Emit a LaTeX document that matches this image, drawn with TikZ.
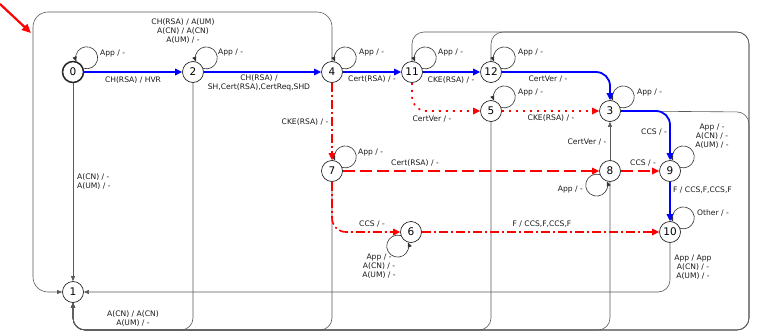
\documentclass[tikz,border=0pt]{standalone}
\usepackage{fontspec}
\setmainfont{DejaVu Sans}
\usetikzlibrary{arrows.meta}
\begin{document}
\begin{tikzpicture}[x=1pt,y=-1pt,
  st/.style={circle,draw=black!85,line width=0.7pt,minimum size=21pt,inner sep=0pt,font=\fontsize{10.5}{12}\selectfont},
  lbl/.style={font=\fontsize{7.6}{9.2}\selectfont,inner sep=0pt,align=center,text=black!90},
  gedge/.style={draw=black!65,line width=0.6pt,-{Triangle[length=5pt,width=4pt]},rounded corners=12pt},
  bedge/.style={draw=blue,line width=1.8pt,-{Triangle[length=7pt,width=6.5pt]},rounded corners=14pt},
  redge/.style={draw=red,line width=1.6pt,-{Triangle[length=7pt,width=6.5pt]},rounded corners=14pt},
  dashdot/.style={dash pattern=on 9pt off 3pt on 2pt off 3pt},
  dotline/.style={dash pattern=on 2pt off 5pt},
  longdash/.style={dash pattern=on 12pt off 5pt},
  lp/.style={draw=black!80,line width=0.6pt,-{Triangle[length=5pt,width=4pt]}},
]
\useasboundingbox (0,0) rectangle (757,332);

% states
\node[st,line width=1.5pt] (n0) at (73,72) {0};
\node[st] (n2) at (193,72) {2};
\node[st] (n4) at (332,72) {4};
\node[st] (n11) at (412,72) {11};
\node[st] (n12) at (491,72) {12};
\node[st] (n5) at (491,111) {5};
\node[st] (n3) at (610,111) {3};
\node[st] (n7) at (332,171) {7};
\node[st] (n8) at (610,171) {8};
\node[st] (n9) at (670,171) {9};
\node[st] (n6) at (411,232) {6};
\node[st] (n10) at (670,232) {10};
\node[st] (n1) at (73,292) {1};

% start arrow
\coordinate (s0) at (0,4);
\coordinate (s1) at (31,33);
\draw[red,line width=2.2pt,-{Triangle[length=9pt,width=8pt]}] (s0) -- (s1);

% grey edges to sink 1
\draw[gedge] (n0) -- (n1);
\draw[gedge,rounded corners=15pt] (n4.north) -- (332,12) -- (33,12) -- (33,292) -- (n1.west);
\draw[gedge] (n2.south) -- (193,330) -- (73,330) -- (n1.south);
\draw[gedge] (n7.south) -- (332,330) -- (73,330) -- (n1.south);
\draw[gedge] (n5.south) -- (491,330) -- (73,330) -- (n1.south);
\draw[gedge] (n8.south) -- (610,330) -- (73,330) -- (n1.south);
\draw[gedge] (n3.east) -- (749,112) -- (749,330) -- (73,330) -- (n1.south);
\draw[gedge] (n11.north) -- (412,32) -- (749,32) -- (749,330) -- (73,330) -- (n1.south);
\draw[gedge] (n12.north) -- (491,32) -- (749,32) -- (749,330) -- (73,330) -- (n1.south);
\draw[gedge] (n10.south) -- (670,292) -- (n1.east);
\draw[gedge] (n8) -- (n3);

% self loops (upper right)
\foreach \n in {n0,n2,n4,n11,n12,n5,n3,n7,n9,n10}
  \draw[lp] (\n.19) arc[start angle=-106, end angle=200.6, radius=11pt];
% self loops (lower left)
\foreach \n in {n8,n6}
  \draw[lp] (\n.199) arc[start angle=74, end angle=380.6, radius=11pt];

% red edges
\draw[redge,dashdot] (n4) -- (n7);
\draw[redge,dotline] (n11.south) -- (412,111) -- (n5.west);
\draw[redge,dotline] (n5) -- (n3);
\draw[redge,longdash] (n7) -- (n8);
\draw[redge,longdash] (n8) -- (n9);
\draw[redge,dashdot] (n7.south) -- (332,232) -- (n6.west);
\draw[redge,dashdot] (n6) -- (n10);

% blue edges
\draw[bedge] (n0) -- (n2);
\draw[bedge] (n2) -- (n4);
\draw[bedge] (n4) -- (n11);
\draw[bedge] (n11) -- (n12);
\draw[bedge] (n12.east) -- (610,72) -- (n3.north);
\draw[bedge] (n3.east) -- (670,111) -- (n9.north);
\draw[bedge] (n9) -- (n10);

% loop labels
\node[lbl,anchor=west] (la0) at (100,54) {App / -};
\node[lbl,anchor=west] (la2) at (218,53) {App / -};
\node[lbl,anchor=west] (la4) at (359,53) {App / -};
\node[lbl,anchor=west] (la11) at (438,53) {App / -};
\node[lbl,anchor=west] (la12) at (518,53) {App / -};
\node[lbl,anchor=west] (la5) at (518,93) {App / -};
\node[lbl,anchor=west] (la3) at (637,93) {App / -};
\node[lbl,anchor=west] (la7) at (358,153) {App / -};
\node[lbl,anchor=east] (la8) at (583,190) {App / -};
\node[lbl] (la9) at (712,136) {App / -\\A(CN) / -\\A(UM) / -};
\node[lbl,anchor=west] (la10) at (697,213) {Other / -};
\node[lbl] (la6) at (379,266) {App / -\\A(CN) / -\\A(UM) / -};

% edge labels
\node[lbl,anchor=west,align=left] (e01) at (77,182) {A(CN) / -\\A(UM) / -};
\node[lbl] (e41) at (183,31) {CH(RSA) / A(UM)\\A(CN) / A(CN)\\A(UM) / -};
\node[lbl] (e21) at (133,319) {A(CN) / A(CN)\\A(UM) / -};
\node[lbl] (e101) at (693,267) {App / App\\A(CN) / -\\A(UM) / -};
\node[lbl] (b02) at (133,80) {CH(RSA) / HVR};
\node[lbl] (b24) at (259,83) {CH(RSA) /\\SH,Cert(RSA),CertReq,SHD};
\node[lbl] (b411) at (372,79) {Cert(RSA) / -};
\node[lbl] (b1112) at (451,80) {CKE(RSA) / -};
\node[lbl] (b123) at (548,79) {CertVer / -};
\node[lbl] (b39) at (654,132) {CCS / -};
\node[lbl,anchor=west] (b910) at (673,190) {F / CCS,F,CCS,F};
\node[lbl] (r47) at (305,122) {CKE(RSA) / -};
\node[lbl] (r115) at (432,119) {CertVer / -};
\node[lbl] (r53) at (551,118) {CKE(RSA) / -};
\node[lbl] (r78) at (415,163) {Cert(RSA) / -};
\node[lbl] (r89) at (643,163) {CCS / -};
\node[lbl] (r76) at (372,224) {CCS / -};
\node[lbl] (r610) at (542,224) {F / CCS,F,CCS,F};
\node[lbl] (g83) at (587,142) {CertVer / -};
\end{tikzpicture}
\end{document}
